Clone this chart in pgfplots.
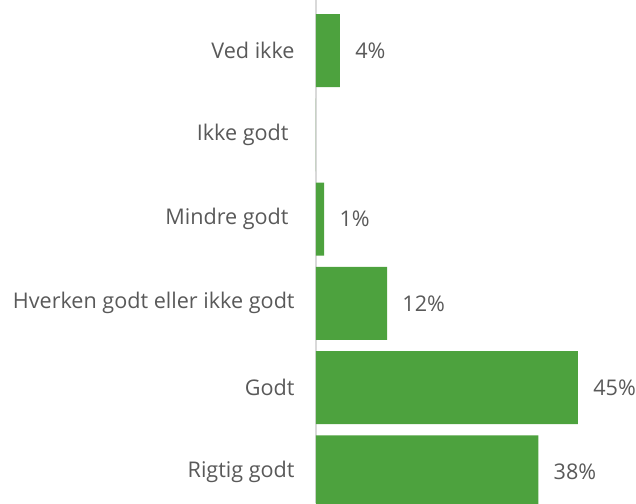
\documentclass[border=0pt]{standalone}
\usepackage{pgfplots}
\pgfplotsset{compat=1.18}
\usepackage{fontspec}
\setmainfont{Open Sans}
\definecolor{bargreen}{HTML}{4DA23E}
\definecolor{txt}{HTML}{595959}
\definecolor{axgray}{HTML}{D9D9D9}
\begin{document}
\fontsize{10.8pt}{13pt}\selectfont
\begin{tikzpicture}
\begin{axis}[
  scale only axis, width=160pt, height=251.5pt,
  xmin=0, xmax=54.98, ymin=-0.6, ymax=5.37, y dir=reverse,
  xbar, bar width=0.866,
  hide x axis, axis y line*=left,
  y axis line style={-, draw=axgray, line width=0.75pt},
  ytick={0,...,5},
  yticklabels={Ved ikke, Ikke godt\hspace*{3pt}, Mindre godt\hspace*{3pt}, Hverken godt eller ikke godt, Godt, Rigtig godt},
  major tick length=0pt, tick style={draw=none},
  yticklabel style={anchor=east, inner sep=0pt, xshift=-10.5pt, text=txt, font=\fontsize{10.8pt}{13pt}\selectfont},
  point meta=explicit symbolic,
  nodes near coords,
  every node near coord/.append style={anchor=west, inner sep=0pt, xshift=7.5pt, text=txt, font=\fontsize{10.8pt}{13pt}\selectfont},
]
\addplot[fill=bargreen, draw=none] coordinates {(4.1,0) [4\%] (0,1) [] (1.4,2) [1\%] (12.2,3) [12\%] (45,4) [45\%] (38.2,5) [38\%]};
\end{axis}
\pgfresetboundingbox
\path (-158pt,0) rectangle (160pt,251.5pt);
\end{tikzpicture}
\end{document}
